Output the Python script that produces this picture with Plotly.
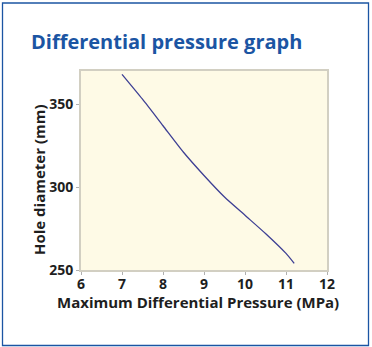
import plotly.graph_objects as go

# Pressure curve (MPa vs mm)
pressure_mpa = [7.0, 7.5, 8.0, 8.5, 9.0, 9.5, 10.0, 10.5, 11.0, 11.2]
hole_diameter_mm = [368, 353, 337, 321, 307, 294, 283, 272, 260, 254]

x_ticks = [6, 7, 8, 9, 10, 11, 12]
y_ticks = [250, 300, 350]

W, H = 372, 347
L, R, T, B = 81, 327, 71, 270  # plot area in pixels


def px(xp):
    return (xp - L) / (R - L)


def py(yp):
    return (B - yp) / (B - T)


tick_font = dict(family="Open Sans", size=14, color="#1e1e1e", weight=700)
title_font = dict(family="Open Sans", size=15, color="#1e1e1e", weight=700)

fig = go.Figure()
fig.add_trace(go.Scatter(
    x=pressure_mpa, y=hole_diameter_mm, mode="lines",
    line=dict(color="#3d3f94", width=1.3, shape="spline", smoothing=0.6),
    hoverinfo="skip", showlegend=False,
))

fig.update_layout(
    width=W, height=H,
    margin=dict(l=L, r=W - R, t=T, b=H - B),
    paper_bgcolor="white",
    plot_bgcolor="#fefae6",
    xaxis=dict(
        range=[6, 12], tickvals=x_ticks, showticklabels=False,
        showgrid=False, zeroline=False,
        showline=True, linecolor="#d2cfc2", linewidth=2, mirror=True,
        ticks="outside", ticklen=3, tickcolor="#b0b0b0", tickwidth=1,
    ),
    yaxis=dict(
        range=[250, 370], tickvals=y_ticks,
        ticktext=[str(v) for v in y_ticks],
        showgrid=False, zeroline=False,
        showline=True, linecolor="#d2cfc2", linewidth=2, mirror=True,
        ticks="outside", ticklen=3, tickcolor="#b0b0b0", tickwidth=1,
        tickfont=tick_font,
    ),
    shapes=[dict(
        type="rect", xref="paper", yref="paper",
        x0=px(2.5), x1=px(368.5), y0=py(345.5), y1=py(3),
        line=dict(color="#1b55a3", width=1.3), fillcolor="rgba(0,0,0,0)",
        layer="below",
    )],
    annotations=[
        dict(text="Differential pressure graph", xref="paper", yref="paper",
             x=px(29), y=py(42), xanchor="left", yanchor="middle",
             showarrow=False,
             font=dict(family="Open Sans", size=20, color="#1b55a3", weight="bold")),
        dict(text="Maximum Differential Pressure (MPa)", xref="paper", yref="paper",
             x=px(198), y=py(302), xanchor="center", yanchor="middle",
             showarrow=False, font=title_font),
        dict(text="Hole diameter (mm)", xref="paper", yref="paper",
             x=px(39), y=py(180), xanchor="center", yanchor="middle",
             textangle=-90, showarrow=False, font=title_font),
    ],
)

# x tick labels placed on the x scale, just under the axis line
for v in x_ticks:
    fig.add_annotation(
        text=str(v), xref="x", yref="paper", x=v, y=py(283),
        xanchor="center", yanchor="middle", showarrow=False, font=tick_font,
    )

fig.write_html("out.html")
